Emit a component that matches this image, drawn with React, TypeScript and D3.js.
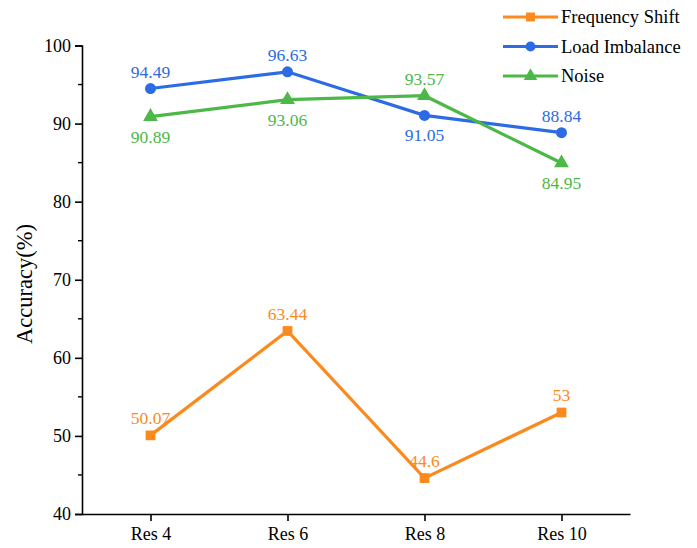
import { useEffect, useRef } from 'react'
import * as d3 from 'd3'

const categories = ['Res 4', 'Res 6', 'Res 8', 'Res 10']
const freqShift = [50.07, 63.44, 44.6, 53]
const loadImbalance = [94.49, 96.63, 91.05, 88.84]
const noise = [90.89, 93.06, 93.57, 84.95]
const yTicks = [40, 50, 60, 70, 80, 90, 100]

// label placement: 1 = above, -1 = below
const freqPos = [1, 1, 1, 1]
const loadPos = [1, 1, -1, 1]
const noisePos = [-1, -1, 1, -1]

const FONT = 'Liberation Serif, Times New Roman, serif'

export default function App() {
  const svgRef = useRef<SVGSVGElement>(null)

  useEffect(() => {
    if (!svgRef.current) return
    const width = 697
    const height = 548
    const svg = d3.select(svgRef.current)
    svg.selectAll('*').remove()
    svg.attr('width', width).attr('height', height)

    const left = 82
    const right = 630
    const top = 45.5
    const bottom = 514

    const x = d3.scalePoint<string>().domain(categories).range([left, right]).padding(0.5)
    const y = d3.scaleLinear().domain([40, 100]).range([bottom, top])

    // axes
    const yAxis = svg.append('g').attr('transform', `translate(${left},0)`)
      .call(d3.axisLeft(y).tickValues(yTicks).tickSize(7).tickFormat(d3.format('d')))
    yAxis.attr('font-family', null).attr('font-size', null)
    yAxis.select('.domain').attr('stroke-width', 1.6)
    yAxis.selectAll('.tick line').attr('stroke-width', 1.6)
    yAxis.selectAll('.tick text').style('font-family', FONT).style('font-size', '18px').attr('fill', '#000').attr('x', -11)
    // minor ticks
    svg.append('g').selectAll('line')
      .data(d3.range(45, 100, 10))
      .join('line')
      .attr('x1', left - 4).attr('x2', left)
      .attr('y1', (d) => y(d)).attr('y2', (d) => y(d))
      .attr('stroke', '#000').attr('stroke-width', 1.4)

    const xAxis = svg.append('g').attr('transform', `translate(0,${bottom})`)
      .call(d3.axisBottom(x).tickSize(7).tickSizeOuter(0))
    xAxis.attr('font-family', null).attr('font-size', null)
    xAxis.select('.domain').attr('stroke-width', 1.6)
    xAxis.selectAll('.tick line').attr('stroke-width', 1.6)
    xAxis.selectAll('.tick text').style('font-family', FONT).style('font-size', '18px').attr('fill', '#000').attr('y', 10).attr('dy', '0.9em')

    svg.append('text')
      .attr('transform', `translate(32,284) rotate(-90)`)
      .attr('text-anchor', 'middle')
      .style('font-family', FONT)
      .style('font-size', '22.5px')
      .attr('fill', '#000')
      .text('Accuracy(%)')

    const series = [
      { name: 'Frequency Shift', values: freqShift, pos: freqPos, color: '#FB8A1E', symbol: d3.symbolSquare },
      { name: 'Load Imbalance', values: loadImbalance, pos: loadPos, color: '#2D6BE4', symbol: d3.symbolCircle },
      { name: 'Noise', values: noise, pos: noisePos, color: '#4CB847', symbol: d3.symbolTriangle },
    ]

    const line = d3.line<number>()
      .x((_, i) => x(categories[i]) as number)
      .y((d) => y(d))

    series.forEach((s) => {
      const g = svg.append('g')
      g.append('path')
        .attr('d', line(s.values) ?? '')
        .attr('fill', 'none')
        .attr('stroke', s.color)
        .attr('stroke-width', 3.2)
      g.selectAll('path.mark')
        .data(s.values)
        .join('path')
        .attr('class', 'mark')
        .attr('transform', (d, i) => `translate(${x(categories[i])},${y(d)})`)
        .attr('d', d3.symbol(s.symbol, 95)())
        .attr('fill', s.color)
      g.selectAll('text')
        .data(s.values)
        .join('text')
        .attr('x', (_, i) => x(categories[i]) as number)
        .attr('y', (d, i) => y(d) + (s.pos[i] > 0 ? -11 : 26))
        .attr('text-anchor', 'middle')
        .style('font-family', FONT)
        .style('font-size', '17.5px')
        .attr('fill', s.color)
        .text((d) => String(d))
    })

    // legend
    const legend = svg.append('g')
    series.forEach((s, i) => {
      const ly = 17 + i * 29.5
      legend.append('line')
        .attr('x1', 503).attr('x2', 558).attr('y1', ly).attr('y2', ly)
        .attr('stroke', s.color).attr('stroke-width', 3.2)
      legend.append('path')
        .attr('transform', `translate(530.5,${ly})`)
        .attr('d', d3.symbol(s.symbol, 80)())
        .attr('fill', s.color)
      legend.append('text')
        .attr('x', 561).attr('y', ly + 6)
        .style('font-family', FONT)
        .style('font-size', '18.5px')
        .attr('fill', '#000')
        .text(s.name)
    })
  }, [])

  return (
    <div style={{ position: 'absolute', left: 0, top: 0 }}>
      <svg ref={svgRef} />
    </div>
  )
}
